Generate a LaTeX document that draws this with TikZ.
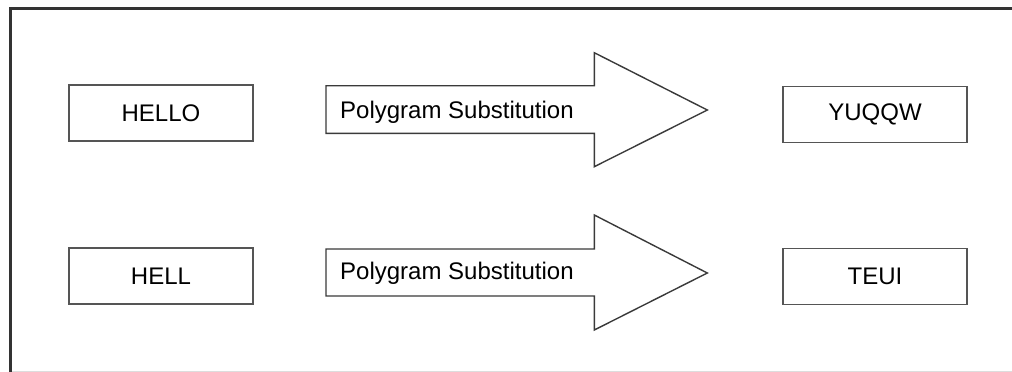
\documentclass[tikz,border=0pt]{standalone}
\usepackage{fontspec}
\setmainfont{Liberation Sans}
\definecolor{frame}{HTML}{333333}
\definecolor{boxline}{HTML}{555555}
\definecolor{arrline}{HTML}{3A3A3A}
\definecolor{faint}{HTML}{DDDDDD}
\tikzset{
  wordbox/.style={draw=boxline, line width=1.5pt, minimum width=184pt, minimum height=56pt, inner sep=0pt, font=\fontsize{24}{28}\selectfont, text=black},
  blockarrow/.style={draw=arrline, line width=1.4pt, fill=white, line join=miter},
  arrowtext/.style={anchor=base west, inner sep=0pt, font=\fontsize{24}{28}\selectfont, text=black}
}
\begin{document}
\begin{tikzpicture}[x=1pt, y=-1pt]
\useasboundingbox (0,0) rectangle (1012,372);
% outer frame
\draw[faint, line width=1pt] (10,371) -- (1012,371);
\draw[frame, line width=3pt, line cap=rect] (10,372) -- (10,8.5) -- (1012,8.5);
% boxes
\node[wordbox] (hello) at (161,113) {HELLO};
\node[wordbox] (yuqqw) at (875,114.5) {YUQQW};
\node[wordbox] (hell) at (161,276) {HELL};
\node[wordbox] (teui) at (875,276.5) {TEUI};
% block arrows
\draw[blockarrow] (326,85.7) -- (594.3,85.7) -- (594.3,52.7) -- (707.3,110) -- (594.3,166.7) -- (594.3,133.3) -- (326,133.3) -- cycle;
\draw[blockarrow] (326,249) -- (594.3,249) -- (594.3,215) -- (707.3,273) -- (594.3,330) -- (594.3,296) -- (326,296) -- cycle;
\node[arrowtext] (sub1) at (340,118.3) {Polygram Substitution};
\node[arrowtext] (sub2) at (340,279.3) {Polygram Substitution};
\end{tikzpicture}
\end{document}
